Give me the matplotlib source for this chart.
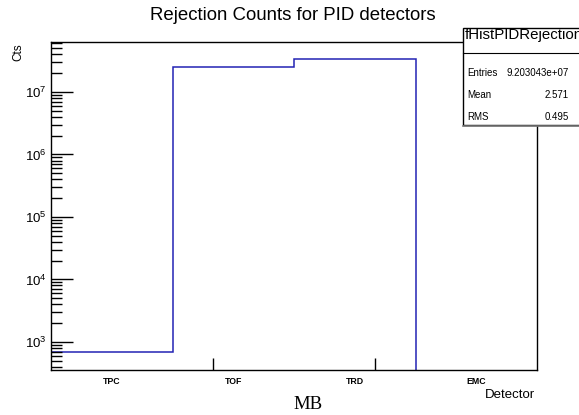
import numpy as np
import matplotlib
matplotlib.use('Agg')
import matplotlib.pyplot as plt
from matplotlib.patches import Rectangle
from matplotlib.lines import Line2D
from matplotlib.ticker import LogLocator, NullFormatter

plt.rcParams['font.family'] = ['Liberation Sans', 'DejaVu Sans']
plt.rcParams['mathtext.fontset'] = 'custom'
plt.rcParams['mathtext.rm'] = 'Liberation Sans'

# histogram data
detectors = ['TPC', 'TOF', 'TRD', 'EMC']
counts = [690, 2.52e7, 3.36e7, 0]
stat_names = ['Entries', 'Mean', 'RMS']
stat_vals = ['9.203043e+07', '2.571', '0.495']

W, H = 579, 415
fig = plt.figure(figsize=(W / 100, H / 100), dpi=100)
ax = fig.add_axes([51 / W, 1 - 370 / H, (537 - 51) / W, (370 - 42) / H])

edges = np.arange(len(detectors) + 1)
ymin = 10 ** 2.55
vals = [c if c > 0 else ymin * 1e-3 for c in counts]
ax.stairs(vals, edges, color='#2323b4', lw=1.1, baseline=None)

ax.set_yscale('log')
ax.set_xlim(0, 4)
ax.set_ylim(ymin, 10 ** 7.8)

ax.yaxis.set_major_locator(LogLocator(base=10, numticks=10))
ax.yaxis.set_minor_locator(LogLocator(base=10, subs=np.arange(2, 10), numticks=50))
ax.yaxis.set_minor_formatter(NullFormatter())
ax.tick_params(axis='y', which='major', direction='in', length=16, width=1,
               labelsize=9.5, pad=3)
ax.tick_params(axis='y', which='minor', direction='in', length=8, width=1)

ax.set_xticks([4 / 3, 8 / 3])
ax.set_xticklabels([])
ax.tick_params(axis='x', which='major', direction='in', length=9, width=1)
for i, d in enumerate(detectors):
    ax.text(i + 0.5, -0.02, d, transform=ax.get_xaxis_transform(),
            ha='center', va='top', fontsize=6.3, fontweight='bold')

for s in ax.spines.values():
    s.set_linewidth(1)

fig.text(293 / W, 1 - 15 / H, 'Rejection Counts for PID detectors',
         ha='center', va='center', fontsize=13.4)
fig.text(18 / W, 1 - 43 / H, 'Cts', rotation=90, ha='center', va='top', fontsize=8.5)
fig.text(535 / W, 1 - 395 / H, 'Detector', ha='right', va='center', fontsize=9.5)
fig.text(308 / W, 1 - 404 / H, 'MB', ha='center', va='center', fontsize=13.5,
         family='Liberation Serif')

# stats box (cut off at the right edge as in the original)
bx0, by0, bx1, by1 = 463, 28, 600, 125
fig.patches.append(Rectangle((bx0 / W, 1 - by1 / H), (bx1 - bx0) / W, (by1 - by0) / H,
                             transform=fig.transFigure, facecolor='white',
                             edgecolor='black', lw=1, zorder=5))
fig.lines.append(Line2D([bx0 / W, 1], [1 - 53 / H, 1 - 53 / H],
                        transform=fig.transFigure, color='black', lw=0.8, zorder=6))
fig.lines.append(Line2D([bx0 / W, 1], [1 - 126 / H, 1 - 126 / H],
                        transform=fig.transFigure, color='#777777', lw=1.2, zorder=6))
fig.text(465 / W, 1 - 35 / H, 'fHistPIDRejection', ha='left', va='center',
         fontsize=10.8, zorder=7)
for i, (n, v) in enumerate(zip(stat_names, stat_vals)):
    y = 1 - (73 + 22 * i) / H
    fig.text(467 / W, y, n, ha='left', va='center', fontsize=7, zorder=7)
    fig.text(569 / W, y, v, ha='right', va='center', fontsize=7, zorder=7)

fig.savefig('out.png', dpi=100)
